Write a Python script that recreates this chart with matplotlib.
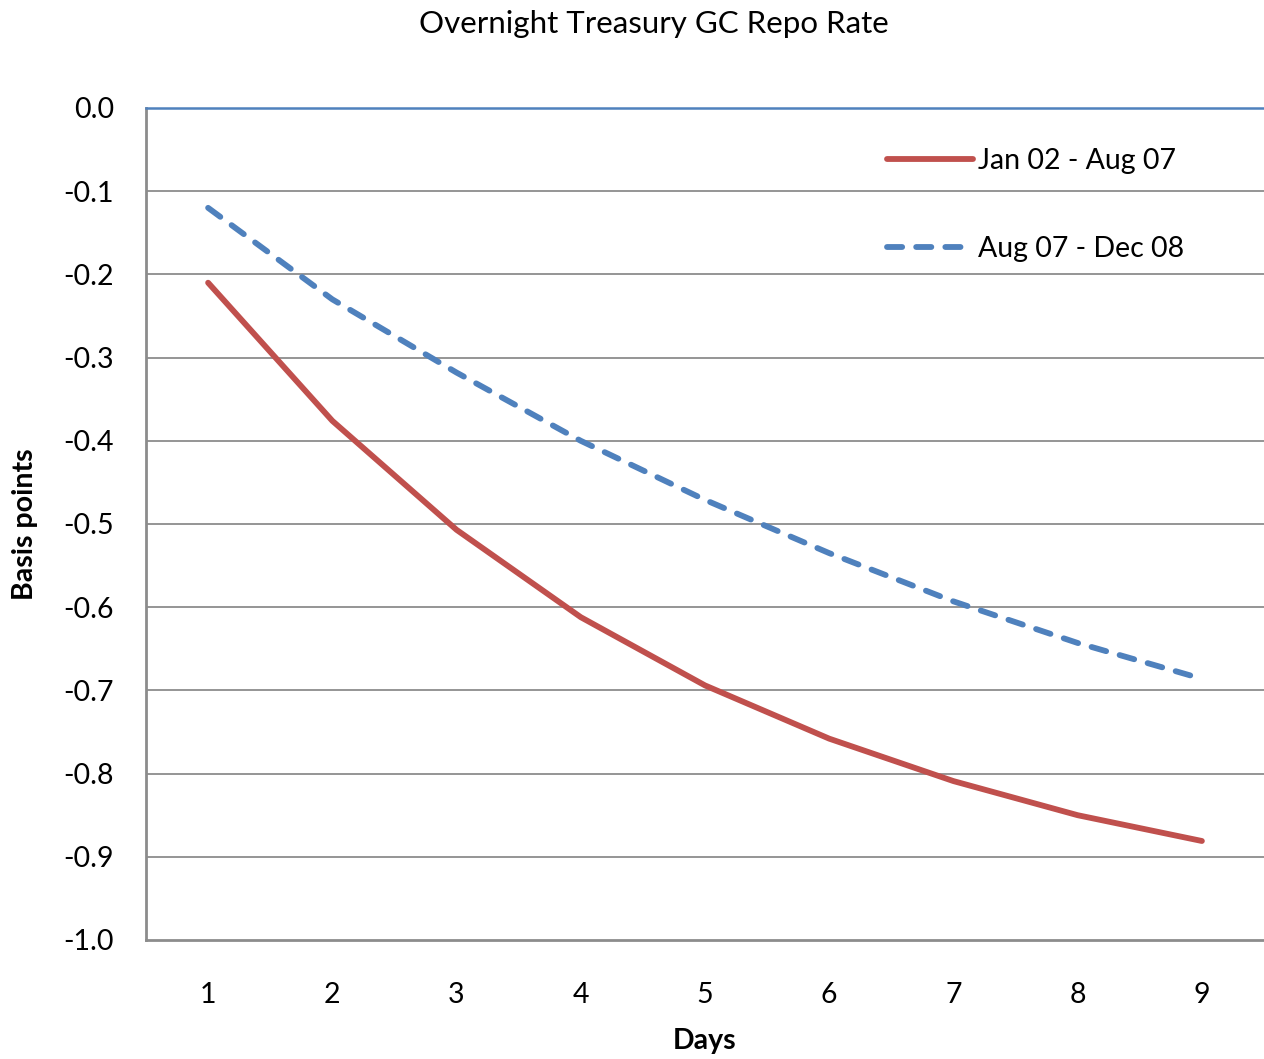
import matplotlib
matplotlib.use("Agg")
import matplotlib.pyplot as plt
import numpy as np

plt.rcParams['font.family'] = ['Lato', 'DejaVu Sans']

days = [1, 2, 3, 4, 5, 6, 7, 8, 9]
jan02_aug07 = [-0.210, -0.376, -0.507, -0.612, -0.694, -0.758, -0.809, -0.850, -0.881]
aug07_dec08 = [-0.120, -0.230, -0.318, -0.400, -0.471, -0.535, -0.593, -0.643, -0.686]
yticks = np.round(np.arange(0, -1.01, -0.1), 1)

fig = plt.figure(figsize=(12.64, 10.59), dpi=100)
ax = fig.add_axes([146/1264, 1 - 940/1059, (1264-146)/1264, (940-108)/1059])

ax.plot(days, jan02_aug07, color='#C0504D', lw=4.2, label='Jan 02 - Aug 07',
        solid_capstyle='round', solid_joinstyle='round')
ax.plot(days, aug07_dec08, color='#4F81BD', lw=4.2, label='Aug 07 - Dec 08',
        dashes=(2.6, 2.4), dash_capstyle='round')

ax.set_xlim(0.5, 9.5)
ax.set_ylim(-1.0, 0.0)
ax.set_xticks(days)
ax.set_yticks(yticks)
ax.set_yticklabels(['%.1f' % v for v in yticks])
ax.tick_params(length=0, labelsize=20.5, pad=23)
ax.tick_params(axis='x', pad=30)

for v in yticks[1:-1]:
    ax.axhline(v, color='#8C8C8C', lw=1.3, zorder=0)

ax.spines['right'].set_visible(False)
ax.spines['top'].set_color('#4F81BD')
ax.spines['top'].set_linewidth(1.8)
ax.spines['left'].set_color('#8C8C8C')
ax.spines['left'].set_linewidth(2)
ax.spines['bottom'].set_color('#8C8C8C')
ax.spines['bottom'].set_linewidth(2)

ax.set_xlabel('Days', fontsize=20.5, fontweight='bold', labelpad=15)
ax.set_ylabel('Basis points', fontsize=20.5, fontweight='bold')
ax.yaxis.set_label_coords(-108/1118, 0.5)
fig.text(654/1264, 1 - 24/1059, 'Overnight Treasury GC Repo Rate',
         fontsize=22.5, ha='center', va='center')

ax.legend(loc='upper left', bbox_to_anchor=(0.64, 0.983), frameon=False,
          fontsize=20.5, handlelength=3.0, handletextpad=0.2, labelspacing=2.2)

fig.savefig('out.png', dpi=100)
